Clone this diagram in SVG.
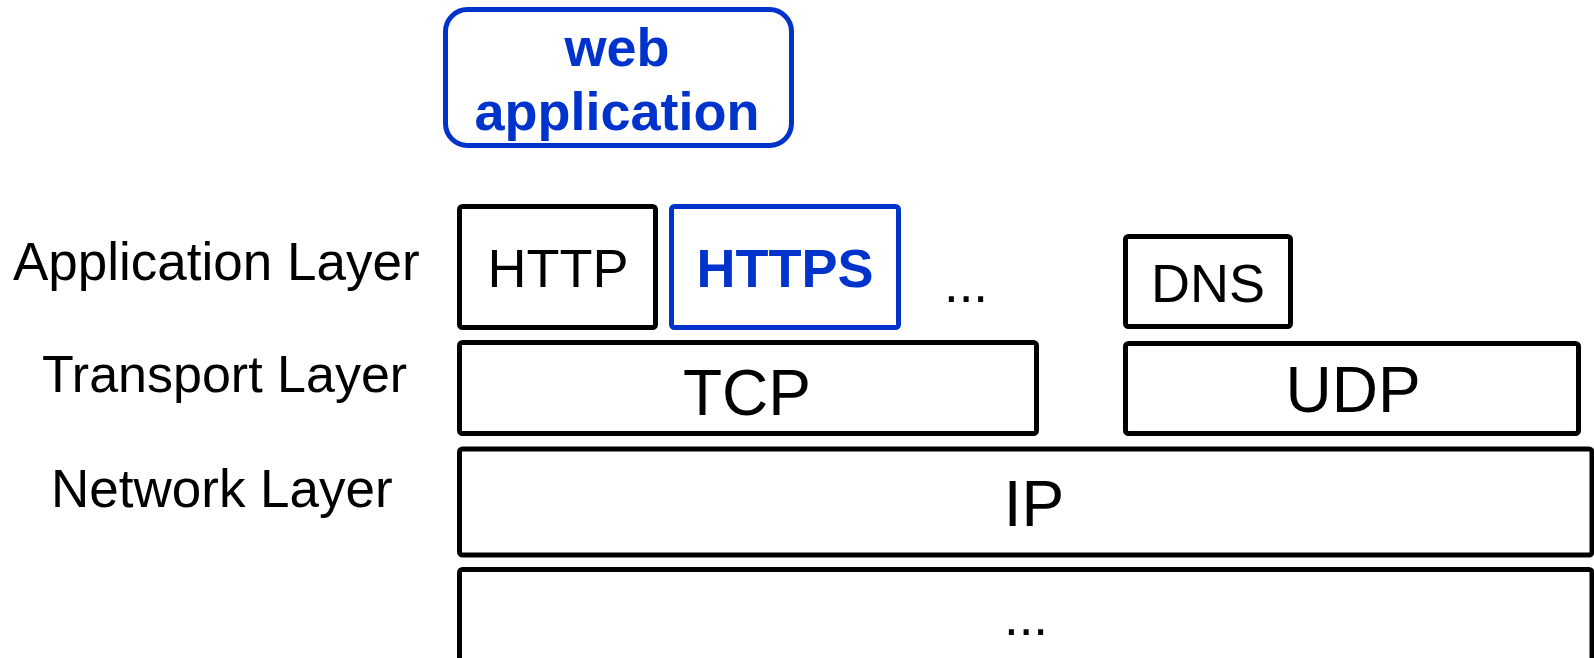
<svg xmlns="http://www.w3.org/2000/svg" width="1594" height="658" viewBox="0 0 1594 658">
<style>
.box{fill:#fff;stroke:#000;stroke-width:5;}
.blue{fill:#fff;stroke:#0033cc;stroke-width:5;}
.t{font-family:"Liberation Sans",Arial,sans-serif;fill:#000;}
.c{text-anchor:middle;}
.b{font-weight:bold;fill:#0033cc;}
</style>
<rect width="1594" height="658" fill="#fff"/>
<g id="labels">
<text class="t" x="13" y="280" font-size="53">Application Layer</text>
<text class="t" x="42" y="392" font-size="52">Transport Layer</text>
<text class="t" x="51" y="507" font-size="53">Network Layer</text>
</g>
<g id="webapp">
<rect class="blue" x="445.5" y="9.5" width="346" height="136" rx="22"/>
<text class="t c b" x="617" y="66" font-size="54">web</text>
<text class="t c b" x="617" y="130" font-size="54">application</text>
</g>
<g id="http">
<rect class="box" x="459.5" y="206.5" width="196" height="121" rx="3"/>
<text class="t c" x="558" y="287" font-size="54">HTTP</text>
</g>
<g id="https">
<rect class="blue" x="671.5" y="206.5" width="227" height="121" rx="3"/>
<text class="t c b" x="785" y="287" font-size="54">HTTPS</text>
</g>
<g id="appdots">
<text class="t c" x="966" y="302" font-size="53">...</text>
</g>
<g id="dns">
<rect class="box" x="1125.5" y="236.5" width="165" height="90" rx="3"/>
<text class="t c" x="1208" y="302" font-size="54">DNS</text>
</g>
<g id="tcp">
<rect class="box" x="459.5" y="342.5" width="577" height="91" rx="3"/>
<text class="t c" x="747" y="415" font-size="64">TCP</text>
</g>
<g id="udp">
<rect class="box" x="1125.5" y="343.5" width="453" height="90" rx="3"/>
<text class="t c" x="1353" y="412" font-size="64">UDP</text>
</g>
<g id="ip">
<rect class="box" x="459.5" y="449" width="1132.5" height="106" rx="3"/>
<text class="t c" x="1034" y="526" font-size="64">IP</text>
</g>
<g id="lower">
<rect class="box" x="459.5" y="569.5" width="1132.5" height="120" rx="3"/>
<text class="t c" x="1026" y="635" font-size="53">...</text>
</g>
<g id="connectors"></g>
</svg>
